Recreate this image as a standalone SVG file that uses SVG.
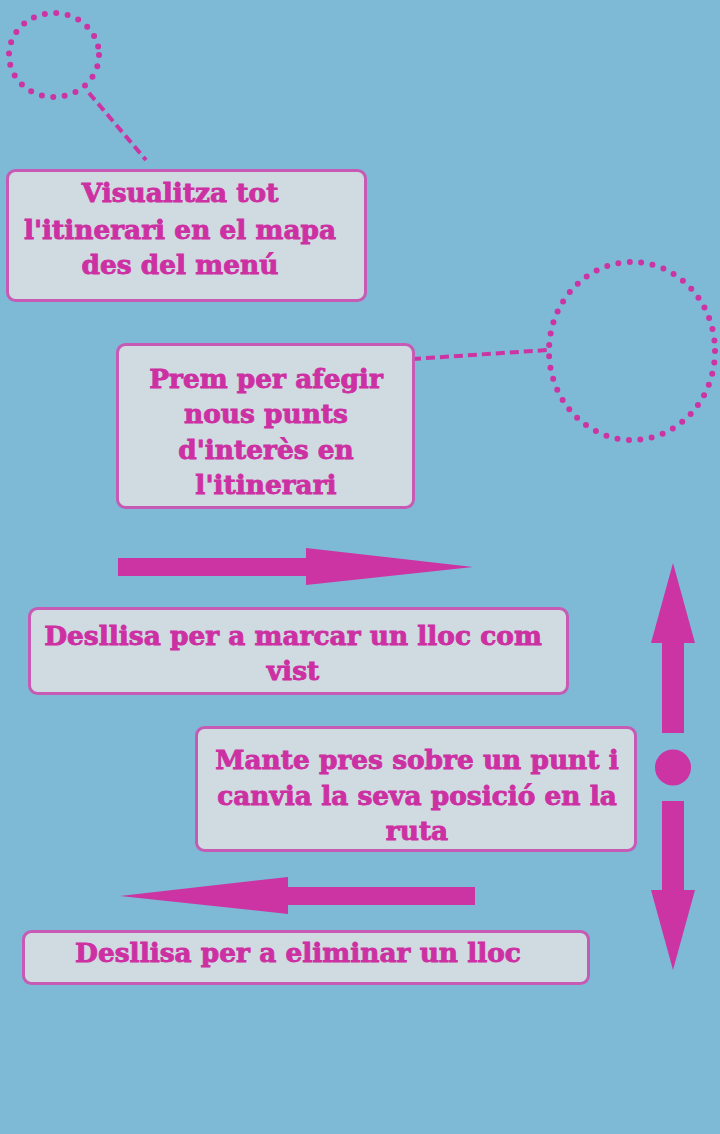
<svg xmlns="http://www.w3.org/2000/svg" width="720" height="1134" viewBox="0 0 720 1134">
<style>
.box{fill:#D0DBE1;stroke:#C65AB4;stroke-width:3}
.t{font-family:"DejaVu Serif","Liberation Serif",serif;font-weight:bold;font-size:26.4px;fill:#CC30A2;stroke:#CC30A2;stroke-width:0.9;text-anchor:middle}
.dot{fill:none;stroke:#CC33A3;stroke-width:6;stroke-linecap:round;stroke-dasharray:0 11.5}
.dash{fill:none;stroke:#CC33A3;stroke-width:4;stroke-dasharray:9 5}
.arr{fill:#CC33A3}
</style>
<rect width="720" height="1134" fill="#7EBAD5"/>
<g id="connectors">
<ellipse class="dot" cx="54" cy="55" rx="45" ry="42"/>
<line class="dash" x1="89" y1="93" x2="146" y2="160"/>
<ellipse class="dot" cx="632" cy="351" rx="83" ry="89"/>
<line class="dash" x1="412" y1="359" x2="548" y2="350"/>
<polygon class="arr" points="118,558 306,558 306,548 473,567 306,585 306,576 118,576"/>
<polygon class="arr" points="475,887 288,887 288,877 120,896 288,914 288,905 475,905"/>
<polygon class="arr" points="673,563 695,643 684,643 684,733 662,733 662,643 651,643"/>
<circle class="arr" cx="673" cy="767.5" r="18"/>
<polygon class="arr" points="662,801 684,801 684,890 695,890 673,970 651,890 662,890"/>
</g>
<g id="node1">
<rect class="box" x="7.5" y="170.5" width="358" height="130" rx="8"/>
<text class="t" x="180" y="202">Visualitza tot </text>
<text class="t" x="180" y="239">l'itinerari en el mapa </text>
<text class="t" x="180" y="274">des del menú</text>
</g>
<g id="node2">
<rect class="box" x="117.5" y="344.5" width="296" height="163" rx="8"/>
<text class="t" x="266" y="388">Prem per afegir</text>
<text class="t" x="266" y="423">nous punts</text>
<text class="t" x="266" y="459">d'interès en</text>
<text class="t" x="266" y="494">l'itinerari</text>
</g>
<g id="node3">
<rect class="box" x="29.5" y="608.5" width="538" height="85" rx="8"/>
<text class="t" x="293" y="645">Desllisa per a marcar un lloc com </text>
<text class="t" x="293" y="680">vist</text>
</g>
<g id="node4">
<rect class="box" x="196.5" y="727.5" width="439" height="123" rx="8"/>
<text class="t" x="417" y="769">Mante pres sobre un punt i</text>
<text class="t" x="417" y="805">canvia la seva posició en la</text>
<text class="t" x="417" y="840">ruta</text>
</g>
<g id="node5">
<rect class="box" x="23.5" y="931.5" width="565" height="52" rx="8"/>
<text class="t" x="298" y="962">Desllisa per a eliminar un lloc </text>
</g>
</svg>
